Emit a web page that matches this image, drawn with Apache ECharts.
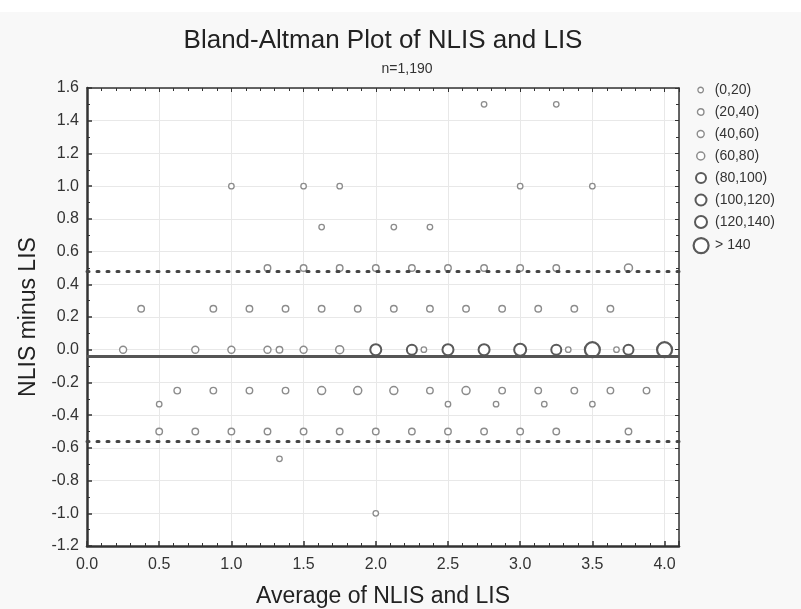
<!DOCTYPE html>
<html>
<head>
<meta charset="utf-8">
<script src="https://cdn.jsdelivr.net/npm/echarts@6/dist/echarts.min.js"></script>
<style>
html,body{margin:0;padding:0;background:#f8f8f8;}
#EchartDiv{width:801px;height:609px;}
</style>
</head>
<body>
<div id="EchartDiv"></div>
<script>
// size classes (number of patients at a point)
var classNames = ['(0,20)','(20,40)','(40,60)','(60,80)','(80,100)','(100,120)','(120,140)','> 140'];
var classSizes = [5.5, 6.5, 7, 8, 10, 11, 12, 15];

// [average, difference] per class
var c0_20 = [[2.75,1.5],[3.25,1.5],
	[1.0,1.0],[1.5,1.0],[1.75,1.0],[3.0,1.0],[3.5,1.0],
	[1.625,0.75],[2.125,0.75],[2.375,0.75],
	[2.333,0],[3.333,0],[3.667,0],
	[0.5,-0.333],[2.5,-0.333],[2.833,-0.333],[3.167,-0.333],[3.5,-0.333],
	[1.333,-0.667],[2.0,-1.0]];
var c20_40 = [[1.25,0.5],[1.5,0.5],[1.75,0.5],[2.0,0.5],[2.25,0.5],[2.5,0.5],[2.75,0.5],[3.0,0.5],[3.25,0.5],
	[0.375,0.25],[0.875,0.25],[1.125,0.25],[1.375,0.25],[1.625,0.25],[1.875,0.25],[2.125,0.25],[2.375,0.25],[2.625,0.25],[2.875,0.25],[3.125,0.25],[3.375,0.25],[3.625,0.25],
	[1.333,0],
	[0.625,-0.25],[0.875,-0.25],[1.125,-0.25],[1.375,-0.25],[2.375,-0.25],[2.875,-0.25],[3.125,-0.25],[3.375,-0.25],[3.625,-0.25],[3.875,-0.25],
	[0.5,-0.5],[0.75,-0.5],[1.0,-0.5],[1.25,-0.5],[1.5,-0.5],[1.75,-0.5],[2.0,-0.5],[2.25,-0.5],[2.5,-0.5],[2.75,-0.5],[3.0,-0.5],[3.25,-0.5],[3.75,-0.5]];
var c40_60 = [[0.25,0],[0.75,0],[1.0,0],[1.25,0],[1.5,0]];
var c60_80 = [[1.75,0],[1.625,-0.25],[1.875,-0.25],[2.125,-0.25],[2.625,-0.25],[3.75,0.5]];
var c80_100 = [[2.25,0],[3.25,0],[3.75,0]];
var c100_120 = [[2.0,0],[2.5,0],[2.75,0]];
var c120_140 = [[3.0,0]];
var c140 = [[3.5,0],[4.0,0]];

// mean difference and limits of agreement
var meanDiff = -0.036;
var upperLoA = 0.485;
var lowerLoA = -0.557;

var myChart = echarts.init(document.getElementById('EchartDiv'));
var font = 'Liberation Sans, Arial, sans-serif';
var classData = [c0_20, c20_40, c40_60, c60_80, c80_100, c100_120, c120_140, c140];
var strokeCol = ['#8c8c8c','#8c8c8c','#8c8c8c','#8c8c8c','#5a5a5a','#5a5a5a','#5a5a5a','#5a5a5a'];
var strokeW = [1.3, 1.4, 1.4, 1.5, 2, 2, 2, 2.2];

var series = [];
var legends = [];
for (var i=0;i<classNames.length;i++){
	series.push({
		name: classNames[i],
		type: 'scatter',
		symbol: 'circle',
		symbolSize: classSizes[i],
		z: 3,
		itemStyle: {color:'#fff', borderColor: strokeCol[i], borderWidth: strokeW[i], opacity:1},
		data: classData[i]
	});
	legends.push({
		data: [classNames[i]],
		orient: 'vertical',
		left: 700 - classSizes[i]/2,
		top: 83 + i*22,
		itemWidth: classSizes[i],
		itemHeight: classSizes[i],
		icon: 'circle',
		padding: 0,
		selectedMode: false,
		itemStyle: {color:'#fff', borderColor: strokeCol[i], borderWidth: strokeW[i]},
		textStyle: {fontFamily: font, fontSize: 14, color:'#333', padding:[0,0,0,Math.max(0, 9 - classSizes[i]/2)]}
	});
}
// reference lines drawn under the points
series.push({
	name: 'lines',
	type: 'line',
	data: [],
	z: 2,
	markLine: {
		silent: true,
		symbol: 'none',
		label: {show:false},
		data: [
			{yAxis: meanDiff, lineStyle:{color:'#555', width:3, type:'solid'}},
			{yAxis: upperLoA, lineStyle:{color:'#444', width:3, type:[2,8], cap:'round'}},
			{yAxis: lowerLoA, lineStyle:{color:'#444', width:3, type:[2,8], cap:'round'}}
		]
	}
});

var fmt1 = function(v){ return v.toFixed(1); };

var option = {
	backgroundColor: '#f8f8f8',
	animation: false,
	graphic: [{type:'rect', shape:{x:0,y:0,width:801,height:12}, style:{fill:'#fff'}, silent:true}],
	title: [
		{
			text: 'Bland-Altman Plot of NLIS and LIS',
			left: 383, top: 28, textAlign: 'center', padding: 0,
			textStyle: {fontFamily: font, fontSize: 26, fontWeight:'normal', color:'#222'}
		},
		{
			text: 'n=1,190',
			left: 407, top: 62, textAlign: 'center', padding: 0,
			textStyle: {fontFamily: font, fontSize: 14, fontWeight:'normal', color:'#333'}
		}
	],
	legend: legends,
	grid: {
		left: 87, top: 88, right: 122, bottom: 63,
		containLabel: false, outerBoundsMode: 'none',
		show: true, backgroundColor:'#fff', borderWidth: 0
	},
	xAxis: [
		{
			type: 'value', position: 'bottom',
			min: 0, max: 4.1, interval: 0.5,
			name: 'Average of NLIS and LIS',
			nameLocation: 'middle', nameGap: 39,
			nameTextStyle: {fontFamily: font, fontSize: 23, color:'#222'},
			axisLine: {show:true, onZero:false, lineStyle:{color:'#333', width:2.5}},
			axisTick: {show:true, inside:true, length:5, lineStyle:{color:'#333', width:1.5}},
			minorTick: {show:true, splitNumber:5, length:3, lineStyle:{color:'#333'}},
			axisLabel: {formatter: fmt1, showMaxLabel:false, margin:11, fontFamily: font, fontSize:16, color:'#333'},
			splitLine: {show:true, lineStyle:{color:'#e8e8e8', width:1}}
		},
		{
			type: 'value', position: 'top',
			min: 0, max: 4.1, interval: 0.5,
			axisLine: {show:true, onZero:false, lineStyle:{color:'#333', width:1.5}},
			axisTick: {show:true, inside:true, length:4, lineStyle:{color:'#333'}},
			minorTick: {show:true, splitNumber:5, length:3, lineStyle:{color:'#333'}},
			axisLabel: {show:false},
			splitLine: {show:false}
		}
	],
	yAxis: [
		{
			type: 'value', position: 'left',
			min: -1.2, max: 1.6, interval: 0.2,
			name: 'NLIS minus LIS',
			nameLocation: 'middle', nameGap: 44, nameRotate: 90,
			nameTextStyle: {fontFamily: font, fontSize: 23, color:'#222'},
			axisLine: {show:true, onZero:false, lineStyle:{color:'#333', width:2.5}},
			axisTick: {show:true, inside:true, length:5, lineStyle:{color:'#333', width:1.5}},
			minorTick: {show:true, splitNumber:2, length:3, lineStyle:{color:'#333'}},
			axisLabel: {formatter: fmt1, margin:8, fontFamily: font, fontSize:16, color:'#333'},
			splitLine: {show:true, lineStyle:{color:'#e8e8e8', width:1}}
		},
		{
			type: 'value', position: 'right',
			min: -1.2, max: 1.6, interval: 0.2,
			axisLine: {show:true, onZero:false, lineStyle:{color:'#333', width:1.5}},
			axisTick: {show:true, inside:true, length:4, lineStyle:{color:'#333'}},
			minorTick: {show:true, splitNumber:2, length:3, lineStyle:{color:'#333'}},
			axisLabel: {show:false},
			splitLine: {show:false}
		}
	],
	series: series
};
myChart.setOption(option);
</script>
</body>
</html>
